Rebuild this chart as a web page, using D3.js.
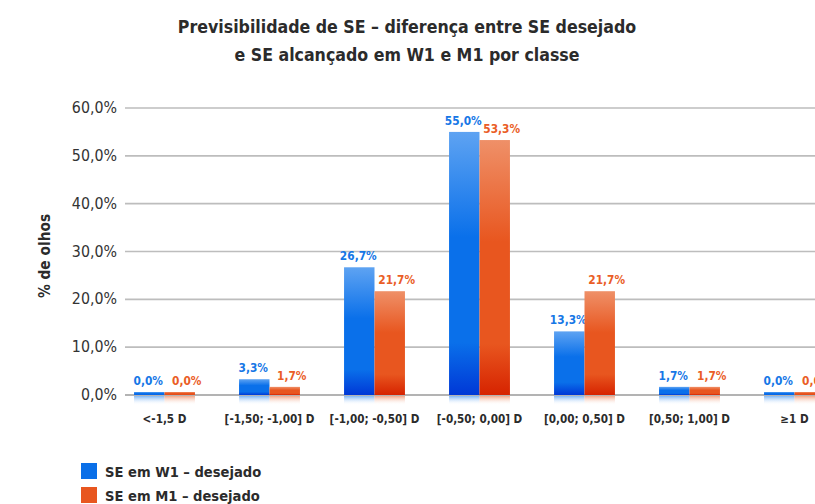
<!DOCTYPE html>
<html>
<head>
<meta charset="utf-8">
<script src="https://cdn.jsdelivr.net/npm/d3@7.9.0/dist/d3.min.js"></script>
<style>
  body { margin: 0; background: #fff; }
  svg { display: block; font-family: "DejaVu Sans Condensed", "Open Sans", sans-serif; }
</style>
</head>
<body>
<svg id="chart" width="815" height="504"></svg>
<script>
const categories = ['<-1,5 D', '[-1,50; -1,00] D', '[-1,00; -0,50] D', '[-0,50; 0,00] D', '[0,00; 0,50] D', '[0,50; 1,00] D', '≥1 D'];
const seriesNames = ['SE em W1 – desejado', 'SE em M1 – desejado'];
const w1Values = [0.0, 3.3, 26.7, 55.0, 13.3, 1.7, 0.0];
const m1Values = [0.0, 1.7, 21.7, 53.3, 21.7, 1.7, 0.0];
const yTicks = [0, 10, 20, 30, 40, 50, 60];
const titleLines = ['Previsibilidade de SE – diferença entre SE desejado', 'e SE alcançado em W1 e M1 por classe'];

const svg = d3.select('#chart');
const fmt = v => v.toFixed(1).replace('.', ',') + '%';

let y = d3.scaleLinear().domain([0, 60]).range([395, 108]);
let x = d3.scaleBand().domain(categories).range([112, 847]).paddingInner(0.42).paddingOuter(0.21);
let xs = d3.scaleBand().domain([0, 1]).range([0, x.bandwidth()]);

// gradients for bars and their reflections
let defs = svg.append('defs');
let palettes = [
    { top: '#5ea3f2', mid: '#0a70ea', bot: '#0038d6', label: '#1677e6', swatch: '#0a6fe8' },
    { top: '#ef9068', mid: '#e8561f', bot: '#d62300', label: '#ea5d26', swatch: '#e8561f' }
];
palettes.forEach((p, i) => {
    let g = defs.append('linearGradient').attr('id', 'bar' + i).attr('x1', 0).attr('y1', 0).attr('x2', 0).attr('y2', 1);
    g.append('stop').attr('offset', '0%').attr('stop-color', p.top);
    g.append('stop').attr('offset', '40%').attr('stop-color', p.mid);
    g.append('stop').attr('offset', '80%').attr('stop-color', p.mid);
    g.append('stop').attr('offset', '100%').attr('stop-color', p.bot);
    let r = defs.append('linearGradient').attr('id', 'refl' + i).attr('x1', 0).attr('y1', 0).attr('x2', 0).attr('y2', 1);
    r.append('stop').attr('offset', '0%').attr('stop-color', p.top).attr('stop-opacity', 0.8);
    r.append('stop').attr('offset', '100%').attr('stop-color', '#fff').attr('stop-opacity', 0);
});

// title
svg.append('g').selectAll('text').data(titleLines).join('text')
    .attr('x', 407).attr('y', (d, i) => 33 + i * 28)
    .attr('text-anchor', 'middle')
    .attr('font-size', 17.6).attr('font-weight', 'bold').attr('fill', '#2b2b2b')
    .text(d => d);

// gridlines + y labels
let grid = svg.append('g');
grid.selectAll('line').data(yTicks).join('line')
    .attr('x1', 125).attr('x2', 815)
    .attr('y1', d => y(d)).attr('y2', d => y(d))
    .attr('stroke', d => d === 0 ? '#9a9a9a' : '#bdbdbd').attr('stroke-width', 1.6);
grid.selectAll('text').data(yTicks).join('text')
    .attr('x', 117).attr('y', d => y(d) + 5)
    .attr('text-anchor', 'end').attr('font-size', 15.8).attr('fill', '#333')
    .text(d => fmt(d));

svg.append('text')
    .attr('transform', 'translate(50,256) rotate(-90)')
    .attr('text-anchor', 'middle').attr('font-size', 15.3).attr('font-weight', 'bold').attr('fill', '#2b2b2b')
    .text('% de olhos');

// bars
let series = [w1Values, m1Values];
series.forEach((vals, s) => {
    let g = svg.append('g');
    let data = categories.map((c, i) => ({ c, v: vals[i] }));
    let h = d => Math.max(y(0) - y(d.v), 3);
    g.selectAll('rect.refl').data(data).join('rect')
        .attr('class', 'refl')
        .attr('x', d => x(d.c) + xs(s)).attr('width', xs.bandwidth())
        .attr('y', y(0) + 1).attr('height', 9)
        .attr('fill', `url(#refl${s})`);
    g.selectAll('rect.bar').data(data).join('rect')
        .attr('class', 'bar')
        .attr('x', d => x(d.c) + xs(s)).attr('width', xs.bandwidth())
        .attr('y', d => y(0) - h(d)).attr('height', d => h(d))
        .attr('fill', `url(#bar${s})`);
    g.selectAll('text').data(data).join('text')
        .attr('x', d => x(d.c) + xs(s) + xs.bandwidth() / 2 + (s === 0 ? -1 : 7))
        .attr('y', d => y(0) - h(d) - 7)
        .attr('text-anchor', 'middle').attr('font-size', 11.8).attr('font-weight', 'bold')
        .attr('fill', palettes[s].label)
        .text(d => fmt(d.v));
});

// x labels
svg.append('g').selectAll('text').data(categories).join('text')
    .attr('x', d => x(d) + x.bandwidth() / 2).attr('y', 423)
    .attr('text-anchor', 'middle').attr('font-size', 11.6).attr('font-weight', 'bold').attr('fill', '#2b2b2b')
    .text(d => d);

// legend
let legend = svg.append('g').selectAll('g').data(seriesNames).join('g')
    .attr('transform', (d, i) => `translate(81,${463 + i * 24})`);
legend.append('rect').attr('width', 16).attr('height', 16).attr('fill', (d, i) => palettes[i].swatch);
legend.append('text').attr('x', 24).attr('y', 14)
    .attr('font-size', 14.6).attr('font-weight', 'bold').attr('fill', '#2b2b2b')
    .text(d => d);
</script>
</body>
</html>
